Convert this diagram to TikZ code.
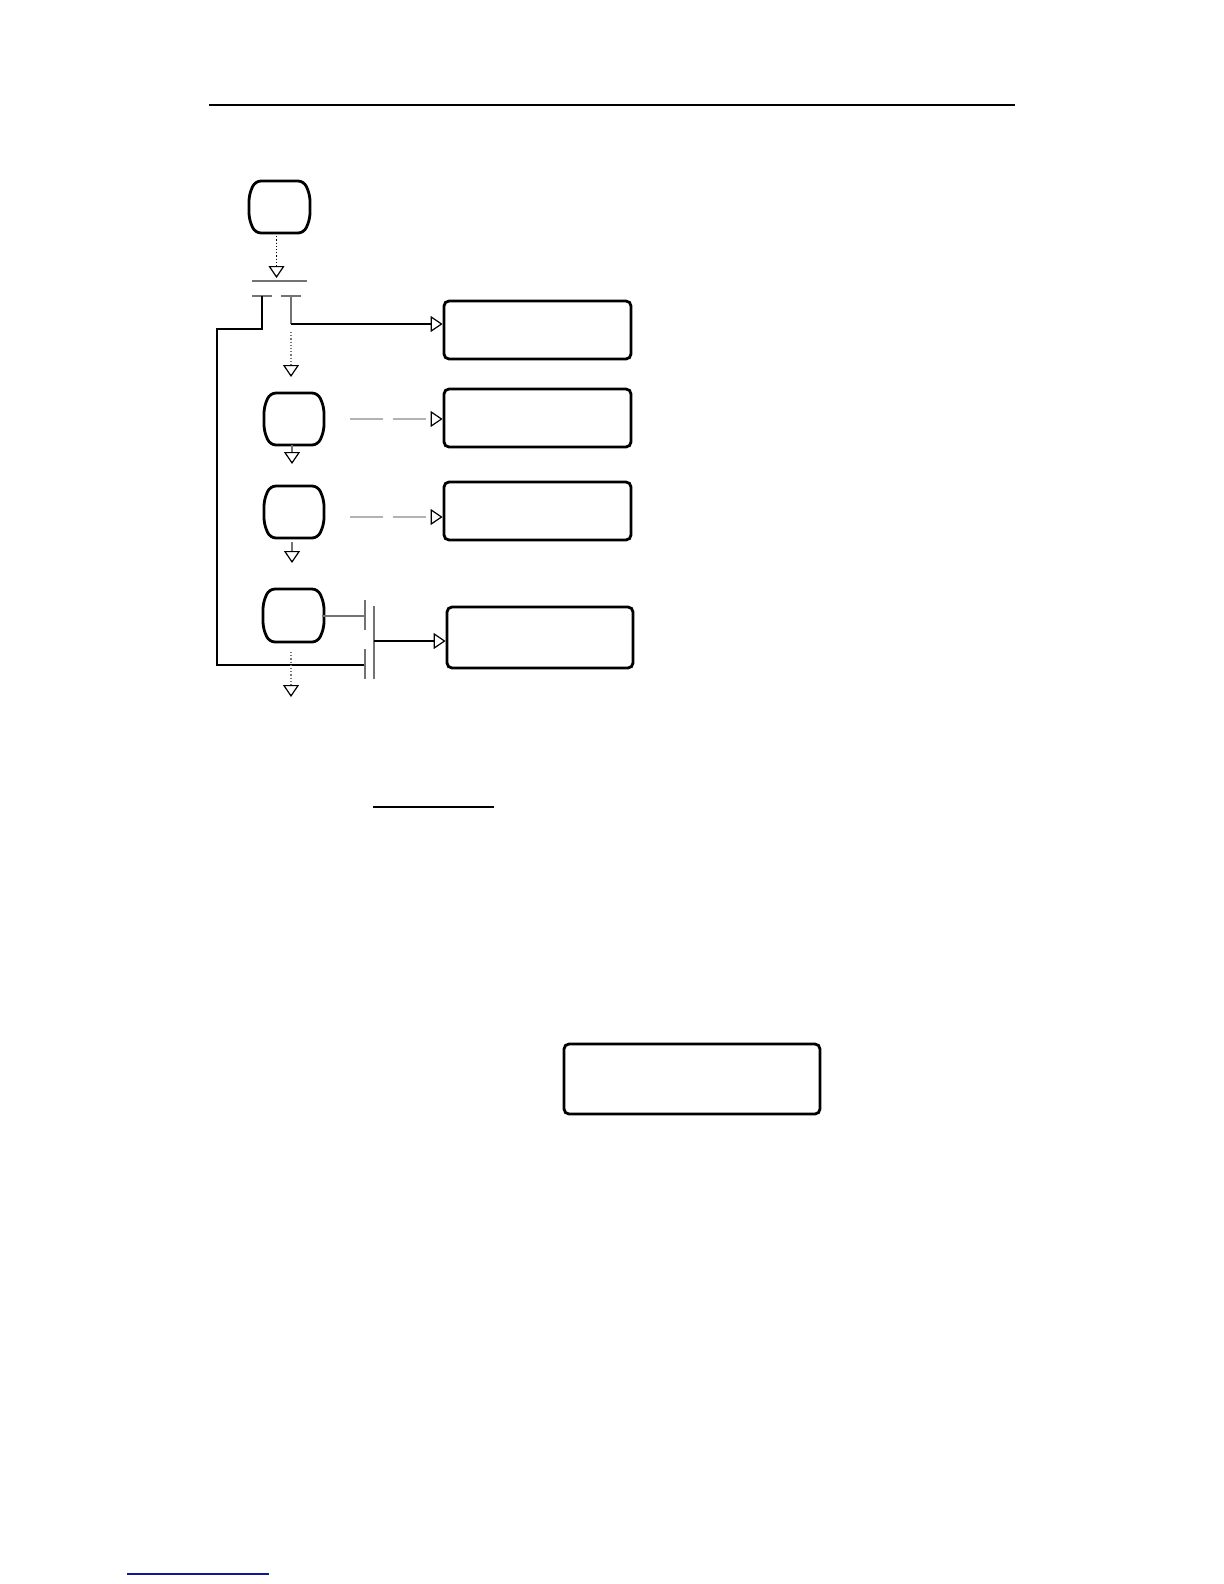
\documentclass[tikz,border=0pt]{standalone}
\usetikzlibrary{arrows.meta,calc}
\tikzset{
  opentip/.style={-{Triangle[open,length=6pt,width=8pt,color=black,line width=0.6pt]}},
  thinblack/.style={line width=0.6pt, black},
  thingray/.style={line width=0.6pt, black!55},
  dotconn/.style={line width=0.6pt, densely dotted},
  dashconn/.style={line width=0.6pt, black!30, dash pattern=on 16.5pt off 5pt},
  barline/.style={line width=1pt, black!55},
  barrelline/.style={line width=1.4pt, black, line join=round},
  stepbox/.style={draw, line width=1.4pt, rounded corners=2.5pt, inner sep=0pt},
  ghost/.style={inner sep=0pt, outer sep=0pt, draw=none}
}
\newcommand{\mybarrel}[5]{%
  \node[ghost, minimum width={(#4-#2)*0.5pt}, minimum height={(#5-#3)*0.5pt}] (#1) at ({(#2+#4)/2},{(#3+#5)/2}) {};
  \draw[barrelline, rounded corners=3pt] (#2+4,#3) -- (#4-4,#3) -- (#4+2,#3+14) -- (#4+2,#5-14) -- (#4-4,#5) -- (#2+4,#5) -- (#2-2,#5-14) -- (#2-2,#3+14) -- cycle;
}
\begin{document}
\begin{tikzpicture}[x=0.5pt,y=-0.5pt]
\useasboundingbox (0,0) rectangle (1224,1584);
\fill[white] (0,0) rectangle (1224,1584);

% header rule
\coordinate (hl) at (209,105);
\coordinate (hr) at (1015,105);
\draw[line width=1.3pt] (hl) -- (hr);

% barrels
\mybarrel{b0}{251}{181}{308}{233}
\mybarrel{b1}{266}{393}{322}{445}
\mybarrel{b2}{266}{486}{322}{538}
\mybarrel{b3}{265}{589}{322}{642}

% boxes
\node[stepbox, minimum width=93.5pt, minimum height=29pt] (r1) at (537.5,330) {};
\node[stepbox, minimum width=93.5pt, minimum height=29pt] (r2) at (537.5,418) {};
\node[stepbox, minimum width=93.5pt, minimum height=29pt] (r3) at (537.5,511) {};
\node[stepbox, minimum width=93pt, minimum height=30.5pt] (r4) at (540,637.5) {};
\node[stepbox, minimum width=128pt, minimum height=35pt] (r5) at (692,1079) {};

% start connector
\coordinate (t0) at (276.5,278);
\draw[dotconn, black, opentip] ([xshift=-1.5pt]b0.south) -- (t0);

% sync bar and split bars
\coordinate (s0l) at (252,281); \coordinate (s0r) at (307,281);
\draw[barline] (s0l) -- (s0r);
\draw[barline] (252,296) -- (272,296);
\draw[barline] (281,296) -- (301,296);
\coordinate (ja) at (262,296);
\coordinate (jb) at (291,296);

% loop back line
\coordinate (m2) at (365,665);
\draw[thinblack] (ja) -- (262,329) -- (217,329) -- (217,665) -- (m2);

% branch to first box
\coordinate (jc) at (291,324);
\draw[thingray] (jb) -- (jc);
\draw[thinblack, opentip] (jc) -- (r1.west |- jc);

% dotted down
\coordinate (d1) at (291,332);
\coordinate (t1) at (291,377);
\draw[dotconn, black!55, opentip] (d1) -- (t1);

% barrel 1 / 2 connectors
\coordinate (t2) at (292,464);
\draw[thingray, opentip] (b1.south -| t2) -- (t2);
\coordinate (e1) at (350,419);
\draw[dashconn, opentip] (e1) -- (r2.west |- e1);

\coordinate (t3) at (292,563);
\draw[thingray, opentip] ([yshift=-2pt]b2.south -| t3) -- (t3);
\coordinate (e2) at (350,517);
\draw[dashconn, opentip] (e2) -- (r3.west |- e2);

% merge bars
\coordinate (m1) at (365,616);
\draw[thingray] (b3.east |- m1) -- (m1);
\draw[barline] (365,600) -- (365,630);
\draw[barline] (365,649) -- (365,679);
\draw[barline] (374,606) -- (374,679);
\coordinate (jd) at (374,641);
\draw[thinblack, opentip] (jd) -- (r4.west |- jd);

% dotted down after barrel 4
\coordinate (d4) at (291,652);
\coordinate (t4) at (291,697);
\draw[dotconn, black!55, opentip] (d4) -- (t4);

% underline
\coordinate (ul) at (373,807); \coordinate (ur) at (494,807);
\draw[line width=0.8pt] (ul) -- (ur);

% bottom blue link line
\coordinate (bl) at (127,1574); \coordinate (br) at (269,1574);
\draw[line width=0.9pt, color={rgb,255:red,20;green,20;blue,160}] (bl) -- (br);
\end{tikzpicture}
\end{document}
